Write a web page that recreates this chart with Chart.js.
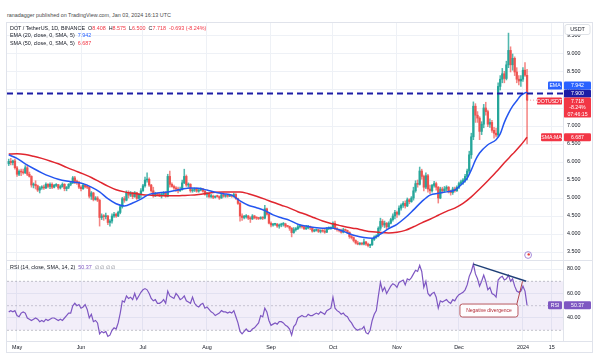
<!DOCTYPE html>
<html>
<head>
<meta charset="utf-8">
<title>DOT / TetherUS 1D</title>
<script src="https://cdn.jsdelivr.net/npm/chart.js@4.4.1/dist/chart.umd.min.js"></script>
<style>
  html, body { margin:0; padding:0; background:#ffffff; }
  body { width:600px; height:355px; position:relative; overflow:hidden; font-family:"Liberation Sans", Arial, sans-serif; }
  #hdr { position:absolute; left:7px; top:12px; font-size:5.4px; line-height:7px; color:#4a4a4a; white-space:nowrap; z-index:3; }
  #frame { position:absolute; left:6px; top:22px; width:587px; height:331px; border:1px solid #e0e3eb; box-sizing:border-box; }
  canvas { position:absolute; }
  #cA { left:7px; top:23px; }
  #cB { left:7px; top:260px; }
  .leg { position:absolute; left:10px; font-size:5.4px; line-height:7px; color:#131722; white-space:nowrap; z-index:3; }
  .red { color:#f23645; } .blue { color:#2962ff; } .purple { color:#7e57c2; } .gray { color:#787b86; }
</style>
</head>
<body>
<div id="hdr">ranadagger published on TradingView.com, Jan 03, 2024 16:13 UTC</div>
<div id="frame"></div>
<canvas id="cA" width="585" height="237"></canvas>
<canvas id="cB" width="585" height="93"></canvas>
<div class="leg" style="top:25px">DOT / TetherUS, 1D, BINANCE&nbsp; O<span class="red">8.408</span>&nbsp; H<span class="red">8.575</span>&nbsp; L<span class="red">6.500</span>&nbsp; C<span class="red">7.718&nbsp; -0.693 (-8.24%)</span></div>
<div class="leg" style="top:32px">EMA (20, close, 0, SMA, 5)&nbsp; <span class="blue">7.942</span></div>
<div class="leg" style="top:39.5px">SMA (50, close, 0, SMA, 5)&nbsp; <span class="red">6.687</span></div>
<div class="leg" style="top:264px">RSI (14, close, SMA, 14, 2)&nbsp; <span class="purple">50.37</span>&nbsp; <span class="gray">∅ ∅ ∅ ∅</span></div>
<script>
// ================= DATA =================
// daily candles, first candle = 2023-04-27 (day -4 relative to 2023-05-01)
const firstDay = -4;
const opens = [
5.95,6.02,5.98,6.03,5.84,5.66,5.74,5.72,5.70,5.84,
5.66,5.60,5.36,5.38,5.34,5.22,5.28,5.30,5.28,5.38,
5.32,5.38,5.30,5.35,5.37,5.28,5.32,5.38,5.26,5.30,
5.38,5.42,5.56,5.46,5.44,5.30,5.26,5.36,5.31,5.30,
5.05,5.14,4.96,5.00,4.94,4.46,4.50,4.48,4.50,4.32,
4.36,4.50,4.55,4.50,4.60,4.76,4.98,4.94,5.15,5.08,
5.14,5.04,5.15,4.99,5.10,5.20,5.34,5.50,5.52,5.36,
5.20,5.06,5.12,5.10,5.08,5.10,5.15,5.05,5.60,5.38,
5.32,5.28,5.25,5.20,5.24,5.42,5.60,5.36,5.38,5.20,
5.22,5.25,5.19,5.22,5.25,5.19,5.10,5.12,5.04,5.05,
5.02,5.05,5.04,5.00,5.09,5.05,5.07,5.05,5.07,5.05,
5.10,4.98,4.85,4.50,4.46,4.48,4.50,4.44,4.42,4.50,
4.45,4.44,4.43,4.45,4.44,4.70,4.55,4.30,4.25,4.27,
4.27,4.22,4.25,4.27,4.28,4.22,4.21,4.16,4.04,4.12,
4.15,4.20,4.22,4.20,4.15,4.17,4.20,4.17,4.08,4.10,
4.12,4.07,4.10,4.08,4.05,4.15,4.15,4.18,4.30,4.15,
4.12,4.10,4.05,4.12,4.10,4.05,3.93,3.90,3.82,3.75,
3.72,3.74,3.72,3.78,3.72,3.68,3.70,3.85,3.92,3.95,
4.16,4.35,4.25,4.30,4.20,4.30,4.40,4.50,4.60,4.55,
4.72,4.80,4.85,4.78,4.95,4.90,5.00,5.20,5.40,5.38,
5.75,5.60,5.30,5.62,5.25,5.20,5.35,5.40,5.30,5.00,
5.25,5.20,5.25,5.30,5.20,5.15,5.25,5.20,5.30,5.40,
5.45,5.50,5.60,5.75,6.20,6.70,7.55,7.30,7.22,6.85,
7.05,7.50,7.40,7.05,7.10,6.88,6.80,6.75,8.10,8.30,
8.45,8.32,8.70,9.10,8.70,8.88,8.50,8.30,8.25,8.30,
8.55,8.408];
const highs = [
6.08,6.10,6.05,6.08,5.88,5.78,5.80,5.80,5.90,5.92,
5.72,5.62,5.42,5.48,5.36,5.32,5.34,5.36,5.42,5.40,
5.42,5.42,5.38,5.40,5.38,5.36,5.42,5.40,5.32,5.40,
5.46,5.60,5.60,5.50,5.46,5.34,5.40,5.38,5.36,5.32,
5.18,5.16,5.04,5.04,4.96,4.56,4.54,4.58,4.52,4.40,
4.56,4.60,4.58,4.64,4.80,5.02,5.04,5.20,5.20,5.18,
5.16,5.18,5.16,5.12,5.26,5.38,5.58,5.70,5.56,5.38,
5.30,5.16,5.14,5.14,5.14,5.18,5.18,5.66,5.75,5.42,
5.36,5.32,5.30,5.30,5.50,5.80,5.64,5.42,5.40,5.26,
5.28,5.28,5.26,5.28,5.27,5.22,5.16,5.16,5.10,5.08,
5.06,5.08,5.06,5.12,5.14,5.09,5.09,5.09,5.08,5.14,
5.12,5.00,4.88,4.56,4.52,4.54,4.52,4.48,4.54,4.52,
4.48,4.46,4.48,4.48,4.80,4.72,4.60,4.34,4.30,4.30,
4.30,4.28,4.30,4.32,4.30,4.24,4.22,4.18,4.18,4.18,
4.24,4.26,4.24,4.21,4.24,4.24,4.22,4.18,4.13,4.14,
4.13,4.12,4.12,4.14,4.18,4.20,4.20,4.34,4.36,4.18,
4.14,4.14,4.16,4.14,4.11,4.06,3.98,3.92,3.84,3.80,
3.76,3.76,3.86,3.80,3.75,3.72,3.88,3.95,3.98,4.20,
4.44,4.40,4.36,4.32,4.34,4.44,4.56,4.66,4.64,4.78,
4.84,4.90,4.92,5.00,4.98,5.04,5.30,5.48,5.50,5.86,
5.80,5.64,5.70,5.66,5.36,5.38,5.46,5.44,5.32,5.30,
5.30,5.32,5.34,5.32,5.22,5.30,5.30,5.34,5.44,5.50,
5.54,5.66,5.80,6.30,6.80,7.67,7.62,7.40,7.26,7.12,
7.60,7.66,7.44,7.20,7.16,6.96,6.94,8.20,8.40,8.60,
8.52,8.80,9.58,9.20,9.00,8.92,8.62,8.40,8.40,8.62,
8.76,8.575];
const lows = [
5.90,5.92,5.92,5.80,5.60,5.62,5.62,5.66,5.68,5.62,
5.58,5.30,5.28,5.25,5.18,5.14,5.24,5.24,5.26,5.28,
5.26,5.26,5.28,5.32,5.24,5.25,5.30,5.20,5.20,5.26,
5.34,5.40,5.40,5.38,5.26,5.20,5.24,5.28,5.26,5.00,
4.96,4.92,4.94,4.90,4.22,4.40,4.38,4.42,4.26,4.22,
4.30,4.46,4.46,4.48,4.56,4.72,4.88,4.92,5.00,5.04,
4.98,5.02,4.96,4.98,5.00,5.18,5.30,5.44,5.32,5.16,
5.02,5.04,5.06,5.04,5.00,5.08,5.02,5.03,5.30,5.30,
5.24,5.18,5.14,5.18,5.22,5.40,5.32,5.30,5.16,5.16,
5.18,5.16,5.16,5.20,5.16,5.08,5.02,5.00,5.00,4.98,
5.00,5.02,4.96,4.99,5.02,5.02,5.02,5.04,5.02,5.02,
4.96,4.82,4.36,4.38,4.42,4.44,4.40,4.32,4.40,4.42,
4.40,4.40,4.41,4.40,4.42,4.52,4.28,4.20,4.22,4.24,
4.18,4.16,4.20,4.22,4.18,4.19,4.10,3.92,4.02,4.08,
4.12,4.16,4.16,4.12,4.12,4.14,4.12,4.05,4.06,4.08,
4.04,4.03,4.05,4.02,4.04,4.12,4.13,4.16,4.12,4.08,
4.06,4.02,4.03,4.08,4.02,3.88,3.86,3.78,3.72,3.70,
3.70,3.70,3.70,3.68,3.64,3.62,3.68,3.82,3.88,3.92,
4.10,4.20,4.18,4.14,4.18,4.28,4.36,4.42,4.46,4.52,
4.66,4.74,4.72,4.76,4.84,4.88,4.94,5.16,5.30,5.36,
5.52,5.20,5.26,5.16,5.12,5.16,5.30,5.22,4.86,4.98,
5.14,5.16,5.20,5.14,5.08,5.10,5.16,5.18,5.26,5.36,
5.38,5.44,5.50,5.70,6.10,6.62,7.10,7.10,6.62,6.76,
6.95,7.30,6.98,6.96,6.82,6.66,6.70,6.70,8.00,8.20,
8.20,8.28,8.62,8.50,8.55,8.40,8.20,8.14,8.10,8.24,
8.38,6.50];
const closes = [
6.02,5.98,6.03,5.84,5.66,5.74,5.72,5.70,5.84,5.66,
5.60,5.36,5.38,5.34,5.22,5.28,5.30,5.28,5.38,5.32,
5.38,5.30,5.35,5.37,5.28,5.32,5.38,5.26,5.30,5.38,
5.42,5.56,5.46,5.44,5.30,5.26,5.36,5.31,5.30,5.05,
5.14,4.96,5.00,4.94,4.46,4.50,4.48,4.50,4.32,4.36,
4.50,4.55,4.50,4.60,4.76,4.98,4.94,5.15,5.08,5.14,
5.04,5.15,4.99,5.10,5.20,5.34,5.50,5.52,5.36,5.20,
5.06,5.12,5.10,5.08,5.10,5.15,5.05,5.60,5.38,5.32,
5.28,5.25,5.20,5.24,5.42,5.60,5.36,5.38,5.20,5.22,
5.25,5.19,5.22,5.25,5.19,5.10,5.12,5.04,5.05,5.02,
5.05,5.04,5.00,5.09,5.05,5.07,5.05,5.07,5.05,5.10,
4.98,4.85,4.50,4.46,4.48,4.50,4.44,4.42,4.50,4.45,
4.44,4.43,4.45,4.44,4.70,4.55,4.30,4.25,4.27,4.27,
4.22,4.25,4.27,4.28,4.22,4.21,4.16,4.04,4.12,4.15,
4.20,4.22,4.20,4.15,4.17,4.20,4.17,4.08,4.10,4.12,
4.07,4.10,4.08,4.05,4.15,4.15,4.18,4.30,4.15,4.12,
4.10,4.05,4.12,4.10,4.05,3.93,3.90,3.82,3.75,3.72,
3.74,3.72,3.78,3.72,3.68,3.70,3.85,3.92,3.95,4.16,
4.35,4.25,4.30,4.20,4.30,4.40,4.50,4.60,4.55,4.72,
4.80,4.85,4.78,4.95,4.90,5.00,5.20,5.40,5.38,5.75,
5.60,5.30,5.62,5.25,5.20,5.35,5.40,5.30,5.00,5.25,
5.20,5.25,5.30,5.20,5.15,5.25,5.20,5.30,5.40,5.45,
5.50,5.60,5.75,6.20,6.70,7.55,7.30,7.22,6.85,7.05,
7.50,7.40,7.05,7.10,6.88,6.80,6.75,8.10,8.30,8.45,
8.32,8.70,9.10,8.70,8.88,8.50,8.30,8.25,8.30,8.55,
8.411,7.718];

// EMA (20) and SMA (50) (day offset from 2023-05-01)
const emaDays = [-4,0,4,8,12,16,20,24,28,32,36,40,44,48,52,56,60,64,68,72,76,80,84,88,92,96,100,104,108,112,116,120,124,128,132,136,140,144,148,152,156,160,164,168,172,176,180,184,188,192,196,200,204,208,212,216,218,220,222,224,228,232,234,236,238,240,242,244,246,247];
const emaVals = [6.20,6.10,5.95,5.82,5.70,5.60,5.52,5.47,5.44,5.40,5.30,5.17,4.98,4.84,4.78,4.86,4.97,5.10,5.14,5.16,5.20,5.25,5.28,5.27,5.22,5.16,5.12,5.08,4.92,4.80,4.73,4.65,4.53,4.45,4.38,4.27,4.22,4.18,4.16,4.17,4.12,4.03,3.95,3.90,3.88,4.00,4.15,4.27,4.45,4.67,4.90,5.08,5.13,5.17,5.22,5.42,5.55,5.78,6.05,6.25,6.48,6.62,6.78,7.10,7.35,7.55,7.70,7.85,7.92,7.942];
const smaDays = [-4,0,4,8,12,16,20,24,28,32,36,40,44,48,52,56,60,64,68,72,76,80,84,88,92,96,100,104,108,112,116,120,124,128,132,136,140,144,148,152,156,160,164,168,172,176,180,184,188,192,196,200,204,208,212,216,220,224,228,232,236,240,244,247];
const smaVals = [6.22,6.23,6.21,6.16,6.10,6.03,5.95,5.85,5.76,5.67,5.57,5.45,5.33,5.23,5.17,5.13,5.10,5.08,5.07,5.06,5.06,5.07,5.08,5.10,5.13,5.16,5.17,5.17,5.17,5.12,5.05,4.97,4.88,4.80,4.72,4.62,4.54,4.45,4.36,4.29,4.24,4.19,4.15,4.10,4.06,4.04,4.03,4.05,4.10,4.20,4.31,4.41,4.52,4.63,4.72,4.85,5.03,5.25,5.48,5.72,5.98,6.22,6.47,6.687];

// RSI(14), one value per candle
const rsiVals = [
45,46,45,46,42,41,44,45,44,40,
39,38,39,40,39,37,38,37,39,38,
39,40,40,39,38,39,38,40,42,44,
44,50,52,50,51,48,49,51,47,40,
43,37,38,36,27,29,28,29,25,26,
30,32,31,36,44,54,53,58,56,57,
55,60,55,58,61,63,64,63,60,56,
54,55,52,52,53,55,52,62,58,57,
56,60,58,55,56,58,54,53,52,57,
52,50,49,51,52,48,49,47,45,44,
42,43,44,46,45,45,44,45,44,46,
41,36,29,27,29,31,29,29,31,32,
34,36,42,41,48,45,38,34,35,36,
35,37,37,36,34,33,31,26,33,35,
40,41,42,41,41,43,42,42,43,44,
43,45,44,43,46,47,48,57,48,46,
45,43,44,42,41,38,36,33,31,30,
31,31,33,28,27,30,38,43,46,58,
69,62,65,60,63,66,68,67,65,69,
70,71,67,72,71,73,76,79,78,83,
78,65,70,60,58,60,61,57,48,54,
53,54,55,53,52,55,54,57,59,60,
61,63,67,74,78,84,76,72,66,70,
75,70,63,65,60,59,57,71,73,74,
71,72,75,70,72,66,62,61,62,66,
62,50.37];

// Axis ticks
const monthTickDays = [0,31,61,92,123,153,184,214,245,259];
const monthTickLabels = ['May','Jun','Jul','Aug','Sep','Oct','Nov','Dec','2024','15'];
const priceTicks = [3.5,4,4.5,5,5.5,6,6.5,7,7.5,8,8.5,9,9.5];
const rsiTicks = [40,60,80];
const rsiLevels = [70,50,30];

// Last values / drawings
const levelPrice = 7.9;
const lastPrice = 7.718;
const emaLast = 7.942;
const smaLast = 6.687;
const rsiLast = 50.37;
const divergenceDays = [221, 246.6];
const divergenceVals = [84, 70];
const pointerDays = [242, 244.8];
const pointerVals = [51, 70];
const noteText = 'Negative divergence';
const noteDays = [214.5, 242.6];
const noteVals = [51.4, 40.8];

// ================= LAYOUT / STYLE =================
const FONT = '"Liberation Sans", Arial, sans-serif';
const X_MIN = -4.84, X_MAX = 264.4;
const P_MIN = 3.278, P_MAX = 9.861;
const R_MIN = 21.22, R_MAX = 87.35;
const AXIS_W = 29;
const GRID = '#eef1f6';
const UP = '#26a69a', DOWN = '#ef5350';
const TXT = '#131722';

const days = closes.map((_, i) => firstDay + i);
const lastDay = days[days.length - 1];

function monthTicks(s) { s.ticks = monthTickDays.map(v => ({ value: v })); }
function noPad(s) { s.paddingTop = 0; s.paddingBottom = 0; s.paddingLeft = 0; s.paddingRight = 0; }

function roundRect(ctx, x, y, w, h, r) {
  ctx.beginPath();
  ctx.moveTo(x + r, y);
  ctx.arcTo(x + w, y, x + w, y + h, r);
  ctx.arcTo(x + w, y + h, x, y + h, r);
  ctx.arcTo(x, y + h, x, y, r);
  ctx.arcTo(x, y, x + w, y, r);
  ctx.closePath();
}
function tag(ctx, x, y, w, h, bg, lines, o) {
  o = o || {};
  ctx.save();
  ctx.fillStyle = bg;
  roundRect(ctx, x, y, w, h, o.r == null ? 1.2 : o.r);
  ctx.fill();
  if (o.stroke) { ctx.strokeStyle = o.stroke; ctx.lineWidth = 0.8; ctx.stroke(); }
  ctx.fillStyle = o.color || '#ffffff';
  ctx.font = (o.size || 5.2) + 'px ' + FONT;
  ctx.textAlign = 'center';
  ctx.textBaseline = 'middle';
  const lh = o.lh || 6.4;
  const c0 = y + h / 2 - (lines.length - 1) * lh / 2;
  lines.forEach((t, k) => ctx.fillText(t, x + w / 2, c0 + k * lh + 0.3));
  ctx.restore();
}

const priceBadges = {
  id: 'priceBadges',
  afterDraw(chart) {
    const ctx = chart.ctx, ys = chart.scales.y, xs = chart.scales.x, ca = chart.chartArea;
    const ax = ca.right, vx = ax + 1, vw = 27;
    // USDT
    tag(ctx, ax + 2, 1.5, 25, 10, '#ffffff', ['USDT'], { stroke: '#d6d9e0', color: TXT, size: 5.4, r: 2 });
    // horizontal level 7.900
    const yLevel = ys.getPixelForValue(levelPrice);
    tag(ctx, vx, yLevel - 4, vw, 8, '#1c1ca6', [levelPrice.toFixed(3)]);
    // EMA
    const yEma = Math.min(ys.getPixelForValue(emaLast), yLevel - 8);
    tag(ctx, ax - 15, yEma - 4, 14, 8, '#2962ff', ['EMA']);
    tag(ctx, vx, yEma - 4, vw, 8, '#2962ff', [emaLast.toFixed(3)]);
    // last price
    const yLast = Math.max(ys.getPixelForValue(lastPrice) - 4, yLevel + 4);
    tag(ctx, ax - 26, yLast, 25, 7, '#f23645', ['DOTUSDT']);
    tag(ctx, vx, yLast, vw, 20, '#f23645', [lastPrice.toFixed(3), '-8.24%', '07:46:15'], { lh: 6.2 });
    // SMA
    const ySma = ys.getPixelForValue(smaLast);
    tag(ctx, ax - 22, ySma - 4, 21, 8, '#f23645', ['SMA:MA']);
    tag(ctx, vx, ySma - 4, vw, 8, '#f23645', [smaLast.toFixed(3)]);
    // event marker
    const cx = xs.getPixelForValue(lastDay + 0.5), cy = ca.bottom - 5;
    ctx.save();
    ctx.strokeStyle = '#9c7fd6'; ctx.lineWidth = 0.9;
    ctx.beginPath(); ctx.arc(cx, cy, 3.4, 0, Math.PI * 2); ctx.stroke();
    ctx.fillStyle = '#e53935';
    ctx.beginPath(); ctx.arc(cx + 0.6, cy - 0.6, 1.2, 0, Math.PI * 2); ctx.fill();
    ctx.restore();
  }
};

const rsiDecor = {
  id: 'rsiDecor',
  afterDraw(chart) {
    const ctx = chart.ctx, ys = chart.scales.y, xs = chart.scales.x, ca = chart.chartArea;
    ctx.save();
    ctx.strokeStyle = '#e0e3eb'; ctx.lineWidth = 1;
    ctx.beginPath(); ctx.moveTo(0, 0.5); ctx.lineTo(chart.width, 0.5); ctx.stroke();
    ctx.beginPath(); ctx.moveTo(0, ca.bottom + 0.5); ctx.lineTo(chart.width, ca.bottom + 0.5); ctx.stroke();
    ctx.restore();
    // note box
    const x1 = xs.getPixelForValue(noteDays[0]), x2 = xs.getPixelForValue(noteDays[1]);
    const y1 = ys.getPixelForValue(noteVals[0]), y2 = ys.getPixelForValue(noteVals[1]);
    tag(ctx, x1, y1, x2 - x1, y2 - y1, 'rgba(255,255,255,0.92)', [noteText], { stroke: '#a8323a', color: '#b22833', size: 5.0, r: 2.5 });
    // RSI badge
    const ax = ca.right, yR = ys.getPixelForValue(rsiLast);
    tag(ctx, ax - 15, yR - 4, 14, 8, '#7e57c2', ['RSI']);
    tag(ctx, ax + 1, yR - 4, 27, 8, '#7e57c2', [rsiLast.toFixed(2)]);
  }
};

const xy = (xs, ys) => xs.map((x, i) => ({ x: x, y: ys[i] }));
const isUp = i => closes[i] >= opens[i];

Chart.defaults.font.family = FONT;
Chart.defaults.animation = false;

new Chart(document.getElementById('cA'), {
  type: 'bar',
  data: {
    datasets: [
      { type: 'line', label: 'level', data: xy([X_MIN, X_MAX], [levelPrice, levelPrice]), borderColor: '#1c1ca6', borderWidth: 2, borderDash: [6, 4], pointRadius: 0, order: 0 },
      { type: 'line', label: 'last', data: xy([lastDay, X_MAX], [lastPrice, lastPrice]), borderColor: 'rgba(242,54,69,0.55)', borderWidth: 1, borderDash: [1, 2], pointRadius: 0, order: 0 },
      { type: 'line', label: 'EMA 20', data: xy(emaDays, emaVals), borderColor: '#2456f0', borderWidth: 1.5, pointRadius: 0, cubicInterpolationMode: 'monotone', order: 1 },
      { type: 'line', label: 'SMA 50', data: xy(smaDays, smaVals), borderColor: '#e0262f', borderWidth: 1.5, pointRadius: 0, cubicInterpolationMode: 'monotone', order: 1 },
      { type: 'bar', label: 'bodies', data: days.map((d, i) => ({ x: d, y: [opens[i], closes[i]] })), backgroundColor: c => isUp(c.dataIndex) ? UP : DOWN, barThickness: 1.6, minBarLength: 1, grouped: false, borderWidth: 0, order: 2 },
      { type: 'bar', label: 'wicks', data: days.map((d, i) => ({ x: d, y: [lows[i], highs[i]] })), backgroundColor: c => isUp(c.dataIndex) ? 'rgba(38,166,154,0.8)' : 'rgba(239,83,80,0.7)', barThickness: 0.9, grouped: false, borderWidth: 0, order: 3 }
    ]
  },
  options: {
    responsive: false, animation: false, events: [], devicePixelRatio: 1,
    layout: { padding: 0 },
    plugins: { legend: { display: false }, tooltip: { enabled: false } },
    scales: {
      x: { type: 'linear', min: X_MIN, max: X_MAX, offset: false,
           grid: { color: GRID, offset: false, drawTicks: false }, border: { display: false },
           ticks: { display: false }, afterBuildTicks: monthTicks,
           afterFit: s => { s.height = 0; noPad(s); } },
      y: { position: 'right', min: P_MIN, max: P_MAX,
           grid: { color: GRID, drawTicks: false }, border: { color: '#e0e3eb' },
           ticks: { padding: 4, color: TXT, font: { size: 5.4 }, callback: v => Number(v).toFixed(3) },
           afterBuildTicks: s => { s.ticks = priceTicks.map(v => ({ value: v })); },
           afterFit: s => { s.width = AXIS_W; noPad(s); } }
    }
  },
  plugins: [priceBadges]
});

new Chart(document.getElementById('cB'), {
  type: 'line',
  data: {
    datasets: [
      { label: 'upper', data: xy([X_MIN, X_MAX], [rsiLevels[0], rsiLevels[0]]), borderColor: 'rgba(120,123,134,0.55)', borderWidth: 0.8, borderDash: [2, 2], pointRadius: 0, fill: '+1', backgroundColor: 'rgba(126,87,194,0.10)', order: 5 },
      { label: 'lower', data: xy([X_MIN, X_MAX], [rsiLevels[2], rsiLevels[2]]), borderColor: 'rgba(120,123,134,0.55)', borderWidth: 0.8, borderDash: [2, 2], pointRadius: 0, fill: false, order: 5 },
      { label: 'middle', data: xy([X_MIN, X_MAX], [rsiLevels[1], rsiLevels[1]]), borderColor: 'rgba(120,123,134,0.45)', borderWidth: 0.8, borderDash: [2, 2], pointRadius: 0, fill: false, order: 5 },
      { label: 'RSI', data: xy(days, rsiVals), borderColor: '#7e57c2', borderWidth: 1.2, pointRadius: 0, fill: false, order: 1 },
      { label: 'divergence', data: xy(divergenceDays, divergenceVals), borderColor: '#1f3f77', borderWidth: 1.4, pointRadius: 0, fill: false, order: 0 },
      { label: 'pointer', data: xy(pointerDays, pointerVals), borderColor: '#a8323a', borderWidth: 0.9, pointRadius: 0, fill: false, order: 0 }
    ]
  },
  options: {
    responsive: false, animation: false, events: [], devicePixelRatio: 1,
    layout: { padding: 0 },
    plugins: { legend: { display: false }, tooltip: { enabled: false } },
    scales: {
      x: { type: 'linear', min: X_MIN, max: X_MAX, offset: false,
           grid: { color: GRID, drawTicks: false }, border: { display: false },
           ticks: { padding: 3, color: TXT, font: { size: 5.4 }, autoSkip: false, maxRotation: 0,
                    callback: v => { const k = monthTickDays.indexOf(v); return k >= 0 ? monthTickLabels[k] : ''; } },
           afterBuildTicks: monthTicks,
           afterFit: s => { s.height = 12; noPad(s); } },
      y: { position: 'right', min: R_MIN, max: R_MAX,
           grid: { color: GRID, drawTicks: false }, border: { color: '#e0e3eb' },
           ticks: { padding: 4, color: TXT, font: { size: 5.4 }, callback: v => Number(v).toFixed(2) },
           afterBuildTicks: s => { s.ticks = rsiTicks.map(v => ({ value: v })); },
           afterFit: s => { s.width = AXIS_W; noPad(s); } }
    }
  },
  plugins: [rsiDecor]
});
</script>
</body>
</html>
